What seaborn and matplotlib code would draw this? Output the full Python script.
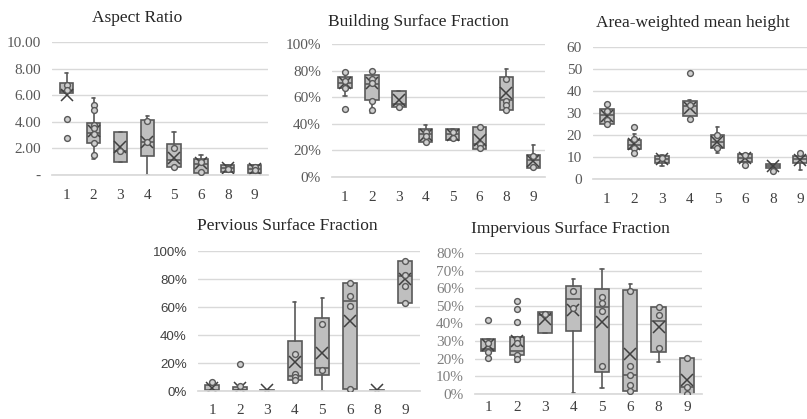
import numpy as np
import pandas as pd
import seaborn as sns
import matplotlib.pyplot as plt
from matplotlib.ticker import FixedLocator, FixedFormatter

sns.set_theme(style="white")
plt.rcParams['font.family'] = ['Liberation Serif', 'DejaVu Serif']

cats = ["1", "2", "3", "4", "5", "6", "8", "9"]

# Aspect Ratio
ar_low = [6.2, 1.2, 1.0, 0.0, 0.58, 0.15, 0.2, 0.15]
ar_q1 = [6.2, 2.4, 1.0, 1.45, 0.58, 0.15, 0.2, 0.15]
ar_med = [6.3, 3.15, 1.8, 2.5, 1.1, 0.85, 0.5, 0.45]
ar_q3 = [6.9, 3.9, 3.2, 4.1, 2.3, 1.2, 0.75, 0.75]
ar_high = [7.7, 5.8, 3.2, 4.4, 3.25, 1.5, 0.75, 0.75]
ar_mean = [6.05, 3.3, 2.1, 2.5, 1.25, 0.9, 0.5, 0.45]
ar_pts = [[6.75, 6.4, 4.2, 2.8], [5.25, 4.9, 3.75, 3.5, 3.1, 2.4, 1.5], [1.8],
          [4.05, 2.5], [2.0, 0.6], [0.95, 0.25], [0.55, 0.45], [0.6, 0.35]]

# Building Surface Fraction (%)
bs_low = [61, 48, 53, 26.5, 28, 21, 50, 7]
bs_q1 = [67, 58, 53, 26.5, 28, 21, 50, 7]
bs_med = [71, 70, 55, 32, 32, 25, 58, 13]
bs_q3 = [75, 76.5, 65, 36, 36, 37.5, 75.5, 16.5]
bs_high = [79, 80, 65, 39, 36, 37.5, 81, 24]
bs_mean = [71, 71, 58, 31.5, 31.5, 28, 63, 12]
bs_pts = [[79, 72, 67, 51], [80, 74, 71, 57.5, 50], [53], [34, 30.5, 26.5],
          [34, 29], [37.5, 25, 21.5], [74, 57, 54, 50.5], [16, 7.5]]

# Area-weighted mean height
hm_low = [25, 11.8, 5.8, 27.4, 12, 7.6, 5, 4.2]
hm_q1 = [25, 13.6, 7.3, 28.8, 14, 7.6, 5, 7.3]
hm_med = [29, 15.5, 9, 33, 17, 9.5, 6, 9]
hm_q3 = [31.8, 17.6, 10.3, 35.6, 20, 11.4, 7, 10.3]
hm_high = [34, 20.5, 11, 36, 23.5, 11.4, 7, 11.8]
hm_mean = [28.8, 16, 9, 32.3, 16.7, 9.5, 5.8, 8.8]
hm_pts = [[34, 30.8, 27, 25.2], [23.5, 18, 14, 11.8], [9.5], [48, 33.8, 27.4],
          [20, 14], [11, 6.5], [3.8], [11.8]]

# Pervious Surface Fraction (%)
pv_low = [0, 0, 0, 6, 0, 1.7, 0, 63]
pv_q1 = [0.3, 0.5, 0, 7.6, 11.2, 1.7, 0, 63]
pv_med = [0.5, 1, 0, 10.5, 16.7, 64, 0, 82]
pv_q3 = [4.5, 2.9, 0.5, 35.5, 52.4, 77, 0.5, 92.8]
pv_high = [6.5, 3.5, 0.5, 63.5, 66.7, 77, 0.5, 92.8]
pv_mean = [2.4, 2.5, 0.8, 20.7, 27.4, 50, 0.8, 80]
pv_pts = [[6.4], [19.5, 3.5], [], [26.7, 12.4, 10, 8], [47.6, 15.2],
          [77, 68, 61, 1.7], [], [92.8, 83, 74.8, 63]]

# Impervious Surface Fraction (%)
ip_low = [20.2, 18, 34.4, 0.6, 3.4, 1.5, 18.3, 0]
ip_q1 = [24.3, 22.4, 34.4, 36, 12.5, 1.5, 24, 0]
ip_med = [25.5, 24.3, 45, 53.8, 49.2, 10.6, 41.6, 4]
ip_q3 = [31, 32.5, 46.4, 61, 59.7, 59.1, 49.2, 20.2]
ip_high = [31, 32.5, 46.4, 65.4, 71, 62.5, 49.2, 20.2]
ip_mean = [28, 30, 42.6, 47.7, 41, 22.6, 38.2, 7.8]
ip_pts = [[42, 29, 24, 20.2], [52.8, 48, 41, 31, 29, 22, 19.8], [45.4], [58.7, 48.7],
          [55.3, 51.5, 47.3, 15.8], [58.7, 15.8, 10.6, 5, 1.9], [49.2, 44.9, 25.9], [20.2, 4, 0]]

W, H = 807, 419
fig = plt.figure(figsize=(W / 100, H / 100), dpi=100)

edge = '#595959'
fill = '#bfbfbf'
grid = '#d9d9d9'


def panel(rect, xlim, low, q1, med, q3, high, mean, pts, yticks, ylabels,
          title, title_xy, ysans=False, ycolor='#595959', xpad=10):
    l, r, t, b = rect
    ax = fig.add_axes([l / W, 1 - b / H, (r - l) / W, (b - t) / H])
    stats = []
    for i in range(len(cats)):
        stats.append(dict(whislo=low[i], q1=q1[i], med=med[i], q3=q3[i],
                          whishi=high[i], mean=mean[i], fliers=[]))
    ax.bxp(stats, positions=np.arange(len(cats)), widths=0.5, capwidths=0.12,
           patch_artist=True, showmeans=True, showfliers=False,
           boxprops=dict(facecolor=fill, edgecolor=edge, linewidth=1.2),
           whiskerprops=dict(color=edge, linewidth=1.2),
           capprops=dict(color=edge, linewidth=1.2),
           medianprops=dict(color=edge, linewidth=1.2),
           meanprops=dict(marker='x', markersize=8.5, markeredgecolor='#404040',
                          markeredgewidth=1.1),
           zorder=2)
    df = pd.DataFrame([(cats[i], v) for i in range(len(cats)) for v in pts[i]],
                      columns=['cat', 'val'])
    sns.stripplot(data=df, x='cat', y='val', order=cats, jitter=False, ax=ax,
                  color='#cfcfcf', edgecolor=edge, linewidth=1.0, size=4.2, zorder=3)
    ax.set_xlim(*xlim)
    ax.set_ylim(yticks[0], yticks[-1])
    ax.yaxis.set_major_locator(FixedLocator(yticks))
    ax.yaxis.set_major_formatter(FixedFormatter(ylabels))
    ax.set_xticks(np.arange(len(cats)))
    ax.set_xticklabels(cats)
    ax.set_xlabel('')
    ax.set_ylabel('')
    ax.grid(axis='y', color=grid, linewidth=1.0, zorder=0)
    ax.set_axisbelow(True)
    for s in ['top', 'right', 'left']:
        ax.spines[s].set_visible(False)
    ax.spines['bottom'].set_color(grid)
    ax.tick_params(axis='both', length=0)
    ax.tick_params(axis='x', pad=xpad, labelsize=11, labelcolor='#404040')
    if ysans:
        ax.tick_params(axis='y', pad=8, labelsize=9.6, labelcolor='#404040')
        for lab in ax.get_yticklabels():
            lab.set_family(['Liberation Sans', 'DejaVu Sans'])
    else:
        ax.tick_params(axis='y', pad=8, labelsize=11, labelcolor=ycolor)
    fig.text(title_xy[0] / W, 1 - title_xy[1] / H, title, ha='center', va='center',
             fontsize=12.5, color='#262626')
    return ax


panel((52, 268, 42, 175), (-0.55, 7.5), ar_low, ar_q1, ar_med, ar_q3, ar_high,
      ar_mean, ar_pts, [0, 2, 4, 6, 8, 10],
      ['-', '2.00', '4.00', '6.00', '8.00', '10.00'], 'Aspect Ratio', (137, 18))

pct = [0, 20, 40, 60, 80, 100]
panel((332, 545, 44, 177), (-0.48, 7.43), bs_low, bs_q1, bs_med, bs_q3, bs_high,
      bs_mean, bs_pts, pct, [f'{v}%' for v in pct],
      'Building Surface Fraction', (418, 22))

hts = [0, 10, 20, 30, 40, 50, 60]
panel((593, 807, 47, 179), (-0.5, 7.24), hm_low, hm_q1, hm_med, hm_q3, hm_high,
      hm_mean, hm_pts, hts, [str(v) for v in hts],
      'Area-weighted mean height', (693, 23))

panel((198, 420, 251, 391), (-0.52, 7.55), pv_low, pv_q1, pv_med, pv_q3, pv_high,
      pv_mean, pv_pts, pct, [f'{v}%' for v in pct],
      'Pervious Surface Fraction', (287, 226), ysans=True, xpad=9)

pct8 = [0, 10, 20, 30, 40, 50, 60, 70, 80]
panel((475, 702, 253, 394), (-0.47, 7.53), ip_low, ip_q1, ip_med, ip_q3, ip_high,
      ip_mean, ip_pts, pct8, [f'{v}%' for v in pct8],
      'Impervious Surface Fraction', (570, 229), ycolor='#7f7f7f', xpad=5)

fig.savefig('out.png', dpi=100)
